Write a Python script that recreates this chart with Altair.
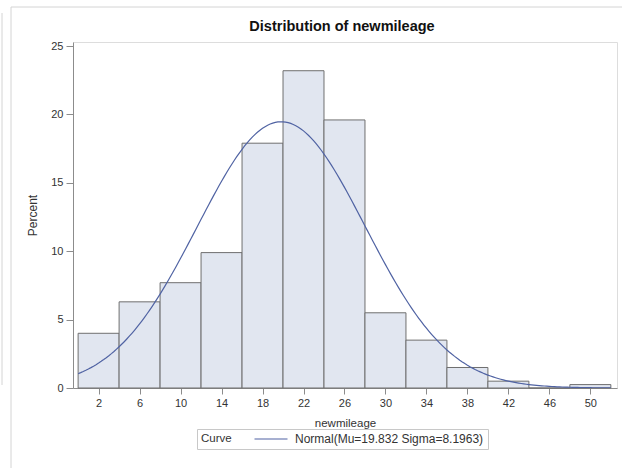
import altair as alt
import numpy as np
import pandas as pd

# Histogram of newmileage: bin midpoints (width 4) and percent of observations
MIDPOINTS = [2, 6, 10, 14, 18, 22, 26, 30, 34, 38, 42, 46, 50]
PERCENT = [4.0, 6.3, 7.7, 9.9, 17.9, 23.2, 19.6, 5.5, 3.5, 1.5, 0.5, 0.0, 0.25]
BIN_WIDTH = 4

# Fitted normal parameters
MU = 19.832
SIGMA = 8.1963
CURVE_LABEL = "Normal(Mu=19.832 Sigma=8.1963)"

TITLE = "Distribution of newmileage"
Y_TICKS = [0, 5, 10, 15, 20, 25]

FONT = "Liberation Sans"
TEXT = "#333333"
AXIS_GRAY = "#8c8c8c"
PLOT_W, PLOT_H = 544, 346

bars = pd.DataFrame({
    "mid": MIDPOINTS,
    "pct": PERCENT,
})
bars["lo"] = bars["mid"] - BIN_WIDTH / 2
bars["hi"] = bars["mid"] + BIN_WIDTH / 2

# Normal density scaled to percent per bin
xs = np.linspace(0, 52, 209)
dens = 100 * BIN_WIDTH * np.exp(-0.5 * ((xs - MU) / SIGMA) ** 2) / (SIGMA * np.sqrt(2 * np.pi))
curve = pd.DataFrame({"x": xs, "y": dens, "series": CURVE_LABEL})

x_scale = alt.Scale(domain=[-0.5, 52.6], nice=False, zero=False)
y_scale = alt.Scale(domain=[0, 25.3], nice=False)

x_axis = alt.Axis(
    values=MIDPOINTS, title="newmileage", grid=False,
    labelFont=FONT, labelFontSize=11, labelColor=TEXT,
    titleFont=FONT, titleFontSize=11.5, titleColor=TEXT, titleFontWeight="normal",
    domainColor=AXIS_GRAY, tickColor=AXIS_GRAY, tickSize=6,
    labelPadding=3, titlePadding=9,
)
y_axis = alt.Axis(
    values=Y_TICKS, title="Percent", grid=False,
    labelFont=FONT, labelFontSize=11, labelColor=TEXT,
    titleFont=FONT, titleFontSize=12, titleColor=TEXT, titleFontWeight="normal",
    domainColor=AXIS_GRAY, tickColor=AXIS_GRAY, tickSize=7,
    labelPadding=3, titlePadding=11,
)

hist = alt.Chart(bars).mark_rect(
    fill="#E1E6F0", stroke="#6f6f6f", strokeWidth=1
).encode(
    x=alt.X("lo:Q", scale=x_scale, axis=x_axis),
    x2="hi:Q",
    y=alt.Y("pct:Q", scale=y_scale, axis=y_axis),
    y2=alt.datum(0),
)

normal = alt.Chart(curve).mark_line(strokeWidth=1.2, clip=True).encode(
    x=alt.X("x:Q", scale=x_scale),
    y=alt.Y("y:Q", scale=y_scale),
    color=alt.Color(
        "series:N",
        scale=alt.Scale(domain=[CURVE_LABEL], range=["#5063A3"]),
        legend=alt.Legend(
            title="Curve", titleOrient="left", orient="none",
            legendX=124, legendY=387,
            # a wide horizontal line as the swatch, with a short row height
            symbolType="M-5.5,0H5.5", symbolSize=36, symbolStrokeWidth=1.2,
            symbolOffset=13, symbolFillColor="transparent",
            strokeColor="#c8c8c8", padding=4,
            titleFont=FONT, titleFontSize=11.5, titleFontWeight="normal", titleColor=TEXT,
            titlePadding=20, titleBaseline="middle",
            labelFont=FONT, labelFontSize=12, labelColor=TEXT,
            labelOffset=18, labelLimit=400,
        ),
    ),
)

title = alt.Chart(pd.DataFrame({"t": [TITLE]})).mark_text(
    font=FONT, fontSize=14.5, fontWeight="bold", color="#111111",
    baseline="middle", align="center", clip=False,
).encode(
    text="t:N", x=alt.value(PLOT_W / 2 - 3), y=alt.value(-15)
)

# Page container borders around the graph
one = pd.DataFrame({"k": [0]})
frame_v = alt.Chart(one).mark_rule(color="#d4d4d4", clip=False).encode(
    x=alt.value(-62), y=alt.value(-35), y2=alt.value(430)
)
frame_h = alt.Chart(one).mark_rule(color="#d4d4d4", clip=False).encode(
    x=alt.value(-62), x2=alt.value(560), y=alt.value(-35)
)
side_v = alt.Chart(one).mark_rule(color="#d4d4d4", clip=False).encode(
    x=alt.value(-71), y=alt.value(-29), y2=alt.value(343)
)

chart = alt.layer(hist, normal, title, frame_v, frame_h, side_v).properties(
    width=PLOT_W, height=PLOT_H,
    padding={"left": 73, "top": 42, "right": 5, "bottom": 80},
    autosize=alt.AutoSizeParams(type="none"),
).configure_view(
    stroke="#9a9a9a", strokeWidth=1
).configure(
    background="white"
)

chart.save("out.html", embed_options={"renderer": "svg", "actions": False})
